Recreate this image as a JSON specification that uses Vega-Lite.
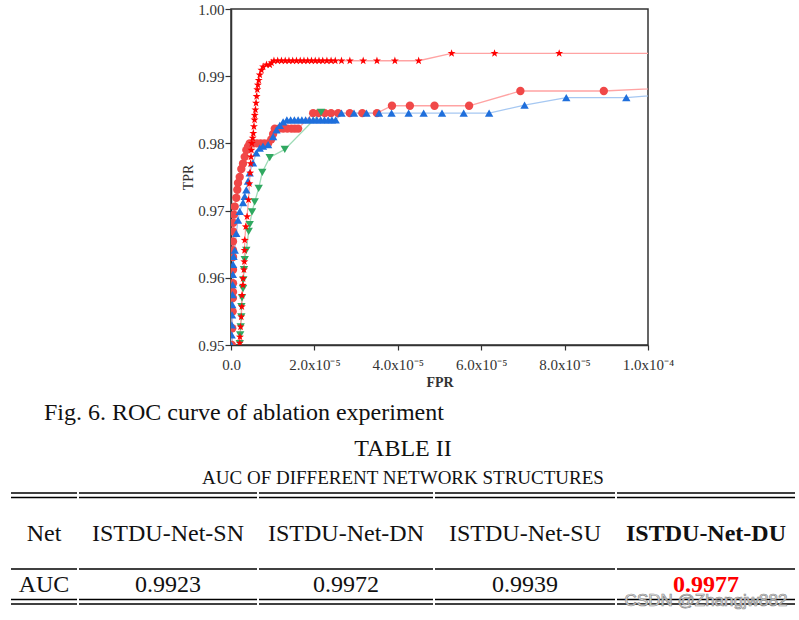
{
"$schema":"https://vega.github.io/schema/vega-lite/v6.json",
"background":"white",
"padding":{"left":10,"top":1,"right":0,"bottom":0},
"spacing":11,
"config":{"view":{"stroke":null},"font":"Liberation Serif",
 "legend":{"orient":"bottom-right","offset":5,"padding":5,"fillColor":"white","strokeColor":"#555","labelFont":"Liberation Serif","labelFontSize":15,"labelColor":"#111","rowPadding":7,"symbolSize":80}},
"datasets":{
"roc":[
{"s":"ISTDU-Net-SU","x":0.2e-6,"y":0.95},{"s":"ISTDU-Net-SU","x":0.3e-6,"y":0.9525},{"s":"ISTDU-Net-SU","x":0.4e-6,"y":0.955},{"s":"ISTDU-Net-SU","x":0.45e-6,"y":0.957},{"s":"ISTDU-Net-SU","x":0.48e-6,"y":0.9579},{"s":"ISTDU-Net-SU","x":0.48e-6,"y":0.9592},{"s":"ISTDU-Net-SU","x":0.48e-6,"y":0.9612},{"s":"ISTDU-Net-SU","x":0.48e-6,"y":0.9631},{"s":"ISTDU-Net-SU","x":0.48e-6,"y":0.9641},{"s":"ISTDU-Net-SU","x":0.48e-6,"y":0.9654},{"s":"ISTDU-Net-SU","x":0.5e-6,"y":0.9669},{"s":"ISTDU-Net-SU","x":0.55e-6,"y":0.9682},{"s":"ISTDU-Net-SU","x":0.72e-6,"y":0.9694},{"s":"ISTDU-Net-SU","x":0.89e-6,"y":0.9706},{"s":"ISTDU-Net-SU","x":1.27e-6,"y":0.9719},{"s":"ISTDU-Net-SU","x":1.51e-6,"y":0.9731},{"s":"ISTDU-Net-SU","x":1.68e-6,"y":0.9741},{"s":"ISTDU-Net-SU","x":2.09e-6,"y":0.975},{"s":"ISTDU-Net-SU","x":2.47e-6,"y":0.9762},{"s":"ISTDU-Net-SU","x":2.88e-6,"y":0.977},{"s":"ISTDU-Net-SU","x":3.29e-6,"y":0.978},{"s":"ISTDU-Net-SU","x":3.67e-6,"y":0.979},{"s":"ISTDU-Net-SU","x":4.08e-6,"y":0.9795},{"s":"ISTDU-Net-SU","x":4.48e-6,"y":0.98},{"s":"ISTDU-Net-SU","x":5.3e-6,"y":0.98},{"s":"ISTDU-Net-SU","x":6.2e-6,"y":0.98},{"s":"ISTDU-Net-SU","x":7.1e-6,"y":0.98},{"s":"ISTDU-Net-SU","x":8.0e-6,"y":0.98},{"s":"ISTDU-Net-SU","x":8.9e-6,"y":0.98},{"s":"ISTDU-Net-SU","x":9.66e-6,"y":0.9806},{"s":"ISTDU-Net-SU","x":10.1e-6,"y":0.9814},{"s":"ISTDU-Net-SU","x":10.5e-6,"y":0.9822},{"s":"ISTDU-Net-SU","x":11.5e-6,"y":0.9822},{"s":"ISTDU-Net-SU","x":12.5e-6,"y":0.9822},{"s":"ISTDU-Net-SU","x":13.5e-6,"y":0.9822},{"s":"ISTDU-Net-SU","x":14.5e-6,"y":0.9822},{"s":"ISTDU-Net-SU","x":15.3e-6,"y":0.9822},{"s":"ISTDU-Net-SU","x":16.1e-6,"y":0.9822},{"s":"ISTDU-Net-SU","x":19.7e-6,"y":0.9845},{"s":"ISTDU-Net-SU","x":21e-6,"y":0.9845},{"s":"ISTDU-Net-SU","x":22.5e-6,"y":0.9845},{"s":"ISTDU-Net-SU","x":24e-6,"y":0.9845},{"s":"ISTDU-Net-SU","x":25.7e-6,"y":0.9845},{"s":"ISTDU-Net-SU","x":28.5e-6,"y":0.9845},{"s":"ISTDU-Net-SU","x":31.5e-6,"y":0.9845},{"s":"ISTDU-Net-SU","x":35e-6,"y":0.9845},{"s":"ISTDU-Net-SU","x":38.6e-6,"y":0.9856},{"s":"ISTDU-Net-SU","x":42.9e-6,"y":0.9856},{"s":"ISTDU-Net-SU","x":48.8e-6,"y":0.9856},{"s":"ISTDU-Net-SU","x":57.1e-6,"y":0.9856},{"s":"ISTDU-Net-SU","x":69.4e-6,"y":0.9878},{"s":"ISTDU-Net-SU","x":89.4e-6,"y":0.9878},{"s":"ISTDU-Net-SU","x":120e-6,"y":0.9887},
{"s":"ISTDU-Net-DN","x":0.1e-6,"y":0.95},{"s":"ISTDU-Net-DN","x":0.15e-6,"y":0.9515},{"s":"ISTDU-Net-DN","x":0.2e-6,"y":0.953},{"s":"ISTDU-Net-DN","x":0.25e-6,"y":0.9545},{"s":"ISTDU-Net-DN","x":0.3e-6,"y":0.956},{"s":"ISTDU-Net-DN","x":0.35e-6,"y":0.9575},{"s":"ISTDU-Net-DN","x":0.4e-6,"y":0.959},{"s":"ISTDU-Net-DN","x":0.45e-6,"y":0.9605},{"s":"ISTDU-Net-DN","x":0.5e-6,"y":0.962},{"s":"ISTDU-Net-DN","x":0.6e-6,"y":0.9632},{"s":"ISTDU-Net-DN","x":0.9e-6,"y":0.9641},{"s":"ISTDU-Net-DN","x":1.27e-6,"y":0.9666},{"s":"ISTDU-Net-DN","x":1.68e-6,"y":0.9686},{"s":"ISTDU-Net-DN","x":2.09e-6,"y":0.9699},{"s":"ISTDU-Net-DN","x":2.88e-6,"y":0.9712},{"s":"ISTDU-Net-DN","x":3.29e-6,"y":0.9721},{"s":"ISTDU-Net-DN","x":3.67e-6,"y":0.9731},{"s":"ISTDU-Net-DN","x":4.08e-6,"y":0.9744},{"s":"ISTDU-Net-DN","x":4.48e-6,"y":0.9756},{"s":"ISTDU-Net-DN","x":5.28e-6,"y":0.9771},{"s":"ISTDU-Net-DN","x":6.07e-6,"y":0.9786},{"s":"ISTDU-Net-DN","x":6.88e-6,"y":0.9793},{"s":"ISTDU-Net-DN","x":7.67e-6,"y":0.9796},{"s":"ISTDU-Net-DN","x":8.9e-6,"y":0.9798},{"s":"ISTDU-Net-DN","x":10.1e-6,"y":0.981},{"s":"ISTDU-Net-DN","x":10.9e-6,"y":0.982},{"s":"ISTDU-Net-DN","x":11.7e-6,"y":0.9827},{"s":"ISTDU-Net-DN","x":12.5e-6,"y":0.9832},{"s":"ISTDU-Net-DN","x":13.4e-6,"y":0.9835},{"s":"ISTDU-Net-DN","x":14.3e-6,"y":0.9835},{"s":"ISTDU-Net-DN","x":15.2e-6,"y":0.9835},{"s":"ISTDU-Net-DN","x":16.1e-6,"y":0.9835},{"s":"ISTDU-Net-DN","x":17e-6,"y":0.9835},{"s":"ISTDU-Net-DN","x":17.9e-6,"y":0.9835},{"s":"ISTDU-Net-DN","x":18.8e-6,"y":0.9835},{"s":"ISTDU-Net-DN","x":19.7e-6,"y":0.9835},{"s":"ISTDU-Net-DN","x":20.6e-6,"y":0.9835},{"s":"ISTDU-Net-DN","x":21.5e-6,"y":0.9835},{"s":"ISTDU-Net-DN","x":22.4e-6,"y":0.9835},{"s":"ISTDU-Net-DN","x":23.3e-6,"y":0.9835},{"s":"ISTDU-Net-DN","x":24.2e-6,"y":0.9835},{"s":"ISTDU-Net-DN","x":25.1e-6,"y":0.9835},{"s":"ISTDU-Net-DN","x":26.5e-6,"y":0.9845},{"s":"ISTDU-Net-DN","x":29.5e-6,"y":0.9845},{"s":"ISTDU-Net-DN","x":32.5e-6,"y":0.9845},{"s":"ISTDU-Net-DN","x":35.5e-6,"y":0.9845},{"s":"ISTDU-Net-DN","x":38.5e-6,"y":0.9845},{"s":"ISTDU-Net-DN","x":42.6e-6,"y":0.9845},{"s":"ISTDU-Net-DN","x":46.2e-6,"y":0.9845},{"s":"ISTDU-Net-DN","x":50.6e-6,"y":0.9845},{"s":"ISTDU-Net-DN","x":55.8e-6,"y":0.9845},{"s":"ISTDU-Net-DN","x":61.9e-6,"y":0.9845},{"s":"ISTDU-Net-DN","x":70.4e-6,"y":0.9857},{"s":"ISTDU-Net-DN","x":80.4e-6,"y":0.9868},{"s":"ISTDU-Net-DN","x":94.8e-6,"y":0.9868},{"s":"ISTDU-Net-DN","x":110e-6,"y":0.9876},
{"s":"ISTDU-Net-SN","x":2.1e-6,"y":0.9502},{"s":"ISTDU-Net-SN","x":2.2e-6,"y":0.9515},{"s":"ISTDU-Net-SN","x":2.33e-6,"y":0.9527},{"s":"ISTDU-Net-SN","x":2.47e-6,"y":0.9542},{"s":"ISTDU-Net-SN","x":2.5e-6,"y":0.9557},{"s":"ISTDU-Net-SN","x":2.64e-6,"y":0.957},{"s":"ISTDU-Net-SN","x":2.88e-6,"y":0.9584},{"s":"ISTDU-Net-SN","x":2.95e-6,"y":0.9597},{"s":"ISTDU-Net-SN","x":3.12e-6,"y":0.9612},{"s":"ISTDU-Net-SN","x":3.29e-6,"y":0.9627},{"s":"ISTDU-Net-SN","x":3.67e-6,"y":0.9641},{"s":"ISTDU-Net-SN","x":4.24e-6,"y":0.9669},{"s":"ISTDU-Net-SN","x":4.48e-6,"y":0.9679},{"s":"ISTDU-Net-SN","x":5.04e-6,"y":0.9698},{"s":"ISTDU-Net-SN","x":5.68e-6,"y":0.9713},{"s":"ISTDU-Net-SN","x":6.64e-6,"y":0.9733},{"s":"ISTDU-Net-SN","x":7.5e-6,"y":0.9757},{"s":"ISTDU-Net-SN","x":9.28e-6,"y":0.9779},{"s":"ISTDU-Net-SN","x":12.9e-6,"y":0.9791},{"s":"ISTDU-Net-SN","x":21.6e-6,"y":0.9846},
{"s":"ISTDU-Net-DU","x":2.1e-6,"y":0.9503},{"s":"ISTDU-Net-DU","x":2.15e-6,"y":0.9512},{"s":"ISTDU-Net-DU","x":2.3e-6,"y":0.9527},{"s":"ISTDU-Net-DU","x":2.45e-6,"y":0.9542},{"s":"ISTDU-Net-DU","x":2.6e-6,"y":0.9557},{"s":"ISTDU-Net-DU","x":2.65e-6,"y":0.9574},{"s":"ISTDU-Net-DU","x":2.85e-6,"y":0.9589},{"s":"ISTDU-Net-DU","x":2.9e-6,"y":0.9599},{"s":"ISTDU-Net-DU","x":3.1e-6,"y":0.9612},{"s":"ISTDU-Net-DU","x":3.2e-6,"y":0.9624},{"s":"ISTDU-Net-DU","x":3.25e-6,"y":0.9641},{"s":"ISTDU-Net-DU","x":3.3e-6,"y":0.9656},{"s":"ISTDU-Net-DU","x":3.55e-6,"y":0.9676},{"s":"ISTDU-Net-DU","x":3.85e-6,"y":0.9691},{"s":"ISTDU-Net-DU","x":4.2e-6,"y":0.9716},{"s":"ISTDU-Net-DU","x":4.4e-6,"y":0.974},{"s":"ISTDU-Net-DU","x":4.6e-6,"y":0.9756},{"s":"ISTDU-Net-DU","x":4.7e-6,"y":0.977},{"s":"ISTDU-Net-DU","x":4.8e-6,"y":0.978},{"s":"ISTDU-Net-DU","x":4.9e-6,"y":0.979},{"s":"ISTDU-Net-DU","x":5.0e-6,"y":0.98},{"s":"ISTDU-Net-DU","x":5.2e-6,"y":0.9808},{"s":"ISTDU-Net-DU","x":5.35e-6,"y":0.9815},{"s":"ISTDU-Net-DU","x":5.5e-6,"y":0.9825},{"s":"ISTDU-Net-DU","x":5.65e-6,"y":0.9835},{"s":"ISTDU-Net-DU","x":5.7e-6,"y":0.9842},{"s":"ISTDU-Net-DU","x":5.85e-6,"y":0.985},{"s":"ISTDU-Net-DU","x":6.0e-6,"y":0.986},{"s":"ISTDU-Net-DU","x":6.15e-6,"y":0.987},{"s":"ISTDU-Net-DU","x":6.3e-6,"y":0.988},{"s":"ISTDU-Net-DU","x":6.45e-6,"y":0.9887},{"s":"ISTDU-Net-DU","x":6.65e-6,"y":0.9894},{"s":"ISTDU-Net-DU","x":6.9e-6,"y":0.9902},{"s":"ISTDU-Net-DU","x":7.3e-6,"y":0.9909},{"s":"ISTDU-Net-DU","x":7.7e-6,"y":0.9914},{"s":"ISTDU-Net-DU","x":8.5e-6,"y":0.9917},{"s":"ISTDU-Net-DU","x":9.3e-6,"y":0.9917},{"s":"ISTDU-Net-DU","x":9.7e-6,"y":0.992},{"s":"ISTDU-Net-DU","x":10.3e-6,"y":0.9923},{"s":"ISTDU-Net-DU","x":11.2e-6,"y":0.9923},{"s":"ISTDU-Net-DU","x":12.1e-6,"y":0.9923},{"s":"ISTDU-Net-DU","x":13e-6,"y":0.9923},{"s":"ISTDU-Net-DU","x":13.9e-6,"y":0.9923},{"s":"ISTDU-Net-DU","x":14.8e-6,"y":0.9923},{"s":"ISTDU-Net-DU","x":15.7e-6,"y":0.9923},{"s":"ISTDU-Net-DU","x":16.6e-6,"y":0.9923},{"s":"ISTDU-Net-DU","x":17.5e-6,"y":0.9923},{"s":"ISTDU-Net-DU","x":18.4e-6,"y":0.9923},{"s":"ISTDU-Net-DU","x":19.3e-6,"y":0.9923},{"s":"ISTDU-Net-DU","x":20.2e-6,"y":0.9923},{"s":"ISTDU-Net-DU","x":21.1e-6,"y":0.9923},{"s":"ISTDU-Net-DU","x":22e-6,"y":0.9923},{"s":"ISTDU-Net-DU","x":23e-6,"y":0.9923},{"s":"ISTDU-Net-DU","x":24e-6,"y":0.9923},{"s":"ISTDU-Net-DU","x":25e-6,"y":0.9923},{"s":"ISTDU-Net-DU","x":26.5e-6,"y":0.9923},{"s":"ISTDU-Net-DU","x":28.5e-6,"y":0.9923},{"s":"ISTDU-Net-DU","x":31.7e-6,"y":0.9923},{"s":"ISTDU-Net-DU","x":35e-6,"y":0.9923},{"s":"ISTDU-Net-DU","x":39.3e-6,"y":0.9923},{"s":"ISTDU-Net-DU","x":45e-6,"y":0.9923},{"s":"ISTDU-Net-DU","x":52.9e-6,"y":0.9934},{"s":"ISTDU-Net-DU","x":63.2e-6,"y":0.9934},{"s":"ISTDU-Net-DU","x":78.7e-6,"y":0.9934},{"s":"ISTDU-Net-DU","x":130e-6,"y":0.9934}
],
"table":[
{"row":"Net","col":"Net","label":"Net"},{"row":"Net","col":"SN","label":"ISTDU-Net-SN"},{"row":"Net","col":"DN","label":"ISTDU-Net-DN"},{"row":"Net","col":"SU","label":"ISTDU-Net-SU"},{"row":"Net","col":"DU","label":"ISTDU-Net-DU"},
{"row":"AUC","col":"Net","label":"AUC"},{"row":"AUC","col":"SN","label":"0.9923"},{"row":"AUC","col":"DN","label":"0.9972"},{"row":"AUC","col":"SU","label":"0.9939"},{"row":"AUC","col":"DU","label":"0.9977"}
]
},
"vconcat":[
{"hconcat":[
 {"width":32,"height":336,"data":{"values":[]},"mark":"point"},
 {"width":417,"height":336,"data":{"name":"roc"},
  "view":{"stroke":"#333","strokeWidth":1.5},
  "title":{"text":"Fig. 6. ROC curve of ablation experiment","orient":"bottom","anchor":"start","frame":"group","dx":-187,"offset":12,"fontSize":24,"fontWeight":"normal","color":"#111"},
  "resolve":{"axis":{"x":"independent","y":"independent"}},
  "layer":[
   {"mark":{"type":"line","clip":true,"strokeWidth":1.3},
    "encoding":{
     "x":{"field":"x","type":"quantitative","scale":{"domain":[0,0.0001],"nice":false,"zero":false},
      "axis":{"values":[0,0.00002,0.00004,0.00006,0.00008,0.0001],
       "labelExpr":"datum.value == 0 ? '0.0' : (round(datum.value*1e5) == 10 ? '1.0x10\u207b\u2074' : format(datum.value*1e5, '.1f') + 'x10\u207b\u2075')",
       "title":"FPR","titleFontSize":14,"titleFontWeight":"bold","titleColor":"#333","titlePadding":3,
       "labelFontSize":15,"labelColor":"#333","labelPadding":7,"labelFlush":false,"labelOverlap":false,
       "domainColor":"#333","domainWidth":1.5,"tickColor":"#333","tickWidth":1.2,"tickSize":5,"grid":false}},
     "y":{"field":"y","type":"quantitative","scale":{"domain":[0.95,1.0],"nice":false,"zero":false},
      "axis":{"values":[0.95,0.96,0.97,0.98,0.99,1.0],"format":".2f",
       "title":"TPR","titleFontSize":14,"titleFontWeight":"normal","titleColor":"#333","titlePadding":2,
       "labelFontSize":15,"labelColor":"#333","labelPadding":1,"labelOverlap":false,
       "domainColor":"#333","domainWidth":1.5,"tickColor":"#333","tickWidth":1.2,"tickSize":6,"grid":false}},
     "stroke":{"field":"s","type":"nominal","scale":{"domain":["ISTDU-Net-DU","ISTDU-Net-SU","ISTDU-Net-DN","ISTDU-Net-SN"],"range":["#ffa3a3","#ffa3a3","#a6c8f2","#9ddbb6"]},"legend":null}
    }},
   {"mark":{"type":"point","filled":true,"clip":true,"opacity":1,"size":70},
    "encoding":{
     "x":{"field":"x","type":"quantitative","axis":null},
     "y":{"field":"y","type":"quantitative","axis":null},
     "fill":{"field":"s","type":"nominal","scale":{"domain":["ISTDU-Net-DU","ISTDU-Net-SU","ISTDU-Net-DN","ISTDU-Net-SN"],"range":["#ff0000","#f04848","#1f6fdc","#30a860"]},"legend":{"title":null}},
     "shape":{"field":"s","type":"nominal","scale":{"domain":["ISTDU-Net-DU","ISTDU-Net-SU","ISTDU-Net-DN","ISTDU-Net-SN"],"range":["M0,-1L0.235,-0.324L0.951,-0.309L0.38,0.124L0.588,0.809L0,0.4L-0.588,0.809L-0.38,0.124L-0.951,-0.309L-0.235,-0.324Z","circle","triangle-up","triangle-down"]},"legend":{"title":null}}
    }}
  ]}
],"spacing":0},
{"hconcat":[
 {"width":66,"height":111,"layer":[
  {"data":{"values":[{}]},"mark":{"type":"rule","color":"#000","strokeWidth":1.5},"encoding":{"y":{"datum":"Net","type":"nominal","bandPosition":0,"scale":{"type":"band","domain":["Net","AUC"],"paddingInner":0,"paddingOuter":0.088},"axis":null}}},
  {"data":{"values":[{}]},"mark":{"type":"rule","color":"#000","strokeWidth":1.5,"yOffset":-4.5},"encoding":{"y":{"datum":"Net","type":"nominal","bandPosition":0,"axis":null}}},
  {"data":{"values":[{}]},"mark":{"type":"rule","color":"#000","strokeWidth":1.5},"encoding":{"y":{"datum":"AUC","type":"nominal","bandPosition":0.4,"axis":null}}},
  {"data":{"values":[{}]},"mark":{"type":"rule","color":"#000","strokeWidth":1.5},"encoding":{"y":{"datum":"AUC","type":"nominal","bandPosition":1,"axis":null}}},
  {"data":{"values":[{}]},"mark":{"type":"rule","color":"#000","strokeWidth":1.5,"yOffset":4.5},"encoding":{"y":{"datum":"AUC","type":"nominal","bandPosition":1,"axis":null}}},
  {"data":{"name":"table"},"transform":[{"filter":"datum.col === 'Net'"}],"mark":{"type":"text","fontSize":24,"baseline":"middle","color":"#111"},"encoding":{"y":{"field":"row","type":"nominal","bandPosition":0.716,"axis":null},"text":{"field":"label"}}}
 ]},
 {"width":178,"height":111,"layer":[
  {"data":{"values":[{}]},"mark":{"type":"rule","color":"#000","strokeWidth":1.5},"encoding":{"y":{"datum":"Net","type":"nominal","bandPosition":0,"scale":{"type":"band","domain":["Net","AUC"],"paddingInner":0,"paddingOuter":0.088},"axis":null}}},
  {"data":{"values":[{}]},"mark":{"type":"rule","color":"#000","strokeWidth":1.5,"yOffset":-4.5},"encoding":{"y":{"datum":"Net","type":"nominal","bandPosition":0,"axis":null}}},
  {"data":{"values":[{}]},"mark":{"type":"rule","color":"#000","strokeWidth":1.5},"encoding":{"y":{"datum":"AUC","type":"nominal","bandPosition":0.4,"axis":null}}},
  {"data":{"values":[{}]},"mark":{"type":"rule","color":"#000","strokeWidth":1.5},"encoding":{"y":{"datum":"AUC","type":"nominal","bandPosition":1,"axis":null}}},
  {"data":{"values":[{}]},"mark":{"type":"rule","color":"#000","strokeWidth":1.5,"yOffset":4.5},"encoding":{"y":{"datum":"AUC","type":"nominal","bandPosition":1,"axis":null}}},
  {"data":{"name":"table"},"transform":[{"filter":"datum.col === 'SN'"}],"mark":{"type":"text","fontSize":24,"baseline":"middle","color":"#111"},"encoding":{"y":{"field":"row","type":"nominal","bandPosition":0.716,"axis":null},"text":{"field":"label"}}}
 ]},
 {"width":174,"height":111,"layer":[
  {"data":{"values":[{}]},"mark":{"type":"rule","color":"#000","strokeWidth":1.5},"encoding":{"y":{"datum":"Net","type":"nominal","bandPosition":0,"scale":{"type":"band","domain":["Net","AUC"],"paddingInner":0,"paddingOuter":0.088},"axis":null}}},
  {"data":{"values":[{}]},"mark":{"type":"rule","color":"#000","strokeWidth":1.5,"yOffset":-4.5},"encoding":{"y":{"datum":"Net","type":"nominal","bandPosition":0,"axis":null}}},
  {"data":{"values":[{}]},"mark":{"type":"rule","color":"#000","strokeWidth":1.5},"encoding":{"y":{"datum":"AUC","type":"nominal","bandPosition":0.4,"axis":null}}},
  {"data":{"values":[{}]},"mark":{"type":"rule","color":"#000","strokeWidth":1.5},"encoding":{"y":{"datum":"AUC","type":"nominal","bandPosition":1,"axis":null}}},
  {"data":{"values":[{}]},"mark":{"type":"rule","color":"#000","strokeWidth":1.5,"yOffset":4.5},"encoding":{"y":{"datum":"AUC","type":"nominal","bandPosition":1,"axis":null}}},
  {"data":{"name":"table"},"transform":[{"filter":"datum.col === 'DN'"}],"mark":{"type":"text","fontSize":24,"baseline":"middle","color":"#111"},"encoding":{"y":{"field":"row","type":"nominal","bandPosition":0.716,"axis":null},"text":{"field":"label"}}}
 ]},
 {"width":180,"height":111,"layer":[
  {"data":{"values":[{}]},"mark":{"type":"rule","color":"#000","strokeWidth":1.5},"encoding":{"y":{"datum":"Net","type":"nominal","bandPosition":0,"scale":{"type":"band","domain":["Net","AUC"],"paddingInner":0,"paddingOuter":0.088},"axis":null}}},
  {"data":{"values":[{}]},"mark":{"type":"rule","color":"#000","strokeWidth":1.5,"yOffset":-4.5},"encoding":{"y":{"datum":"Net","type":"nominal","bandPosition":0,"axis":null}}},
  {"data":{"values":[{}]},"mark":{"type":"rule","color":"#000","strokeWidth":1.5},"encoding":{"y":{"datum":"AUC","type":"nominal","bandPosition":0.4,"axis":null}}},
  {"data":{"values":[{}]},"mark":{"type":"rule","color":"#000","strokeWidth":1.5},"encoding":{"y":{"datum":"AUC","type":"nominal","bandPosition":1,"axis":null}}},
  {"data":{"values":[{}]},"mark":{"type":"rule","color":"#000","strokeWidth":1.5,"yOffset":4.5},"encoding":{"y":{"datum":"AUC","type":"nominal","bandPosition":1,"axis":null}}},
  {"data":{"name":"table"},"transform":[{"filter":"datum.col === 'SU'"}],"mark":{"type":"text","fontSize":24,"baseline":"middle","color":"#111"},"encoding":{"y":{"field":"row","type":"nominal","bandPosition":0.716,"axis":null},"text":{"field":"label"}}}
 ]},
 {"width":178,"height":111,"layer":[
  {"data":{"values":[{}]},"mark":{"type":"rule","color":"#000","strokeWidth":1.5},"encoding":{"y":{"datum":"Net","type":"nominal","bandPosition":0,"scale":{"type":"band","domain":["Net","AUC"],"paddingInner":0,"paddingOuter":0.088},"axis":null}}},
  {"data":{"values":[{}]},"mark":{"type":"rule","color":"#000","strokeWidth":1.5,"yOffset":-4.5},"encoding":{"y":{"datum":"Net","type":"nominal","bandPosition":0,"axis":null}}},
  {"data":{"values":[{}]},"mark":{"type":"rule","color":"#000","strokeWidth":1.5},"encoding":{"y":{"datum":"AUC","type":"nominal","bandPosition":0.4,"axis":null}}},
  {"data":{"values":[{}]},"mark":{"type":"rule","color":"#000","strokeWidth":1.5},"encoding":{"y":{"datum":"AUC","type":"nominal","bandPosition":1,"axis":null}}},
  {"data":{"values":[{}]},"mark":{"type":"rule","color":"#000","strokeWidth":1.5,"yOffset":4.5},"encoding":{"y":{"datum":"AUC","type":"nominal","bandPosition":1,"axis":null}}},
  {"data":{"name":"table"},"transform":[{"filter":"datum.col === 'DU'"}],"mark":{"type":"text","fontSize":24,"fontWeight":"bold","baseline":"middle"},"encoding":{"y":{"field":"row","type":"nominal","bandPosition":0.716,"axis":null},"text":{"field":"label"},"color":{"condition":{"test":"datum.row === 'AUC'","value":"#ff0000"},"value":"#111"}}},
  {"data":{"values":[{"wm":"CSDN @Zhangjw882"}]},"mark":{"type":"text","font":"Liberation Sans","fontSize":17,"baseline":"middle","fill":"#e6e6e6","stroke":"#8a8a8a","strokeWidth":0.7},"encoding":{"y":{"datum":"AUC","type":"nominal","bandPosition":1.03,"axis":null},"text":{"field":"wm"}}}
 ]}
],"spacing":0,
 "title":{"text":"TABLE II","subtitle":"AUC OF DIFFERENT NETWORK STRUCTURES","anchor":"middle","fontSize":24,"fontWeight":"normal","color":"#111","subtitleFontSize":19,"subtitleColor":"#111","subtitlePadding":8,"offset":4}}
]
}
